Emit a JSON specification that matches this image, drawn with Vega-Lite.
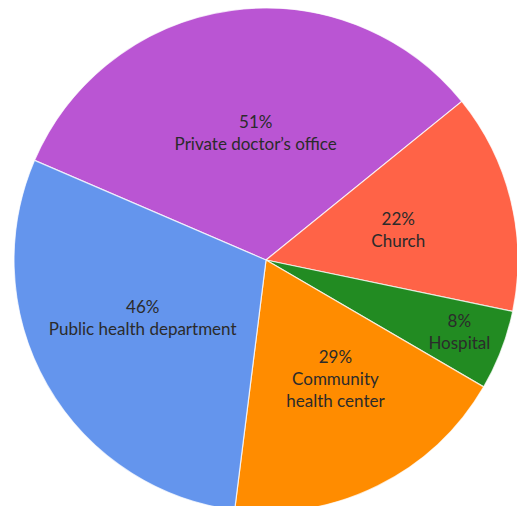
{
  "$schema": "https://vega.github.io/schema/vega-lite/v6.json",
  "autosize": "none",
  "padding": 0,
  "width": 532,
  "height": 520,
  "background": "white",
  "view": {"stroke": null},
  "data": {
    "values": [
      {"rank": 1, "place": "Private doctor’s office", "value": 51, "label": "51%\nPrivate doctor’s office"},
      {"rank": 2, "place": "Church", "value": 22, "label": "22%\nChurch"},
      {"rank": 3, "place": "Hospital", "value": 8, "label": "8%\nHospital"},
      {"rank": 4, "place": "Community health center", "value": 29, "label": "29%\nCommunity\nhealth center"},
      {"rank": 5, "place": "Public health department", "value": 46, "label": "46%\nPublic health department"}
    ]
  },
  "encoding": {
    "theta": {"field": "value", "type": "quantitative", "stack": true, "scale": {"range": [-1.164, 5.119]}},
    "order": {"field": "rank", "type": "quantitative"}
  },
  "layer": [
    {
      "mark": {"type": "arc", "outerRadius": 252, "stroke": "white", "strokeWidth": 1.2, "strokeOpacity": 0.75},
      "encoding": {
        "color": {
          "field": "place",
          "type": "nominal",
          "legend": null,
          "scale": {
            "domain": ["Private doctor’s office", "Church", "Hospital", "Community health center", "Public health department"],
            "range": ["#BA55D3", "#FF6347", "#228B22", "#FF8C00", "#6495ED"]
          }
        }
      }
    },
    {
      "mark": {
        "type": "text",
        "radius": {"expr": "datum.place == 'Hospital' ? 206 : 134"},
        "dx": {"expr": "datum.place == 'Private doctor’s office' ? 8 : datum.place == 'Church' ? 2 : datum.place == 'Hospital' ? 1 : datum.place == 'Community health center' ? 10 : -7"},
        "dy": {"expr": "datum.place == 'Private doctor’s office' ? -4 : datum.place == 'Church' ? -8 : datum.place == 'Hospital' ? -12 : datum.place == 'Community health center' ? -22 : -19"},
        "lineBreak": "\n",
        "lineHeight": 22,
        "font": "Lato",
        "fontSize": 17,
        "fill": "#2b2b2b",
        "align": "center",
        "baseline": "middle"
      },
      "encoding": {
        "text": {"field": "label", "type": "nominal"}
      }
    }
  ]
}
